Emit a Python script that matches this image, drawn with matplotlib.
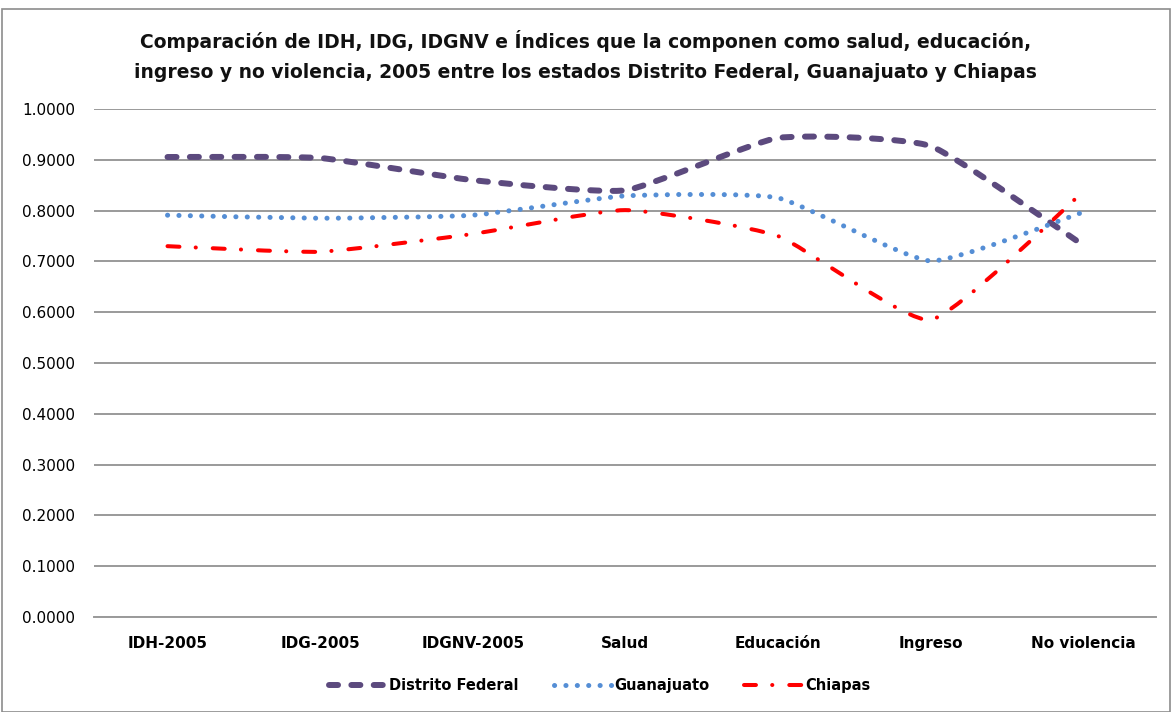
import numpy as np
import matplotlib.pyplot as plt
from matplotlib.path import Path
from matplotlib.patches import PathPatch, Rectangle
from matplotlib.lines import Line2D

plt.rcParams['lines.scale_dashes'] = False

categories = ['IDH-2005', 'IDG-2005', 'IDGNV-2005', 'Salud', 'Educación', 'Ingreso', 'No violencia']
distrito_federal = [0.9055, 0.9035, 0.8600, 0.8400, 0.9430, 0.9270, 0.7320]
guanajuato = [0.7910, 0.7850, 0.7910, 0.8290, 0.8250, 0.7010, 0.7970]
chiapas = [0.7300, 0.7190, 0.7540, 0.8010, 0.7500, 0.5850, 0.8370]
yticks = [0.0, 0.1, 0.2, 0.3, 0.4, 0.5, 0.6, 0.7, 0.8, 0.9, 1.0]
title = ('Comparación de IDH, IDG, IDGNV e Índices que la componen como salud, educación,\n'
         'ingreso y no violencia, 2005 entre los estados Distrito Federal, Guanajuato y Chiapas')

series = [
    ('Distrito Federal', distrito_federal, dict(color='#5c4a7e', lw=4.3, ls=(0, (6.5, 9.6)))),
    ('Guanajuato', guanajuato, dict(color='#558ed5', lw=3.6, ls=(0, (0.1, 8.1)))),
    ('Chiapas', chiapas, dict(color='#ff0000', lw=2.9, ls=(0, (8.6, 11.7, 0.1, 12.2)))),
]


def smooth_path(xs, ys, k=0.08):
    # smoothed line like excel: bezier through every point
    pts = np.column_stack([xs, ys]).astype(float)
    ext = np.vstack([pts[0], pts, pts[-1]])
    verts = [pts[0]]
    codes = [Path.MOVETO]
    for i in range(len(pts) - 1):
        p0, p1, p2, p3 = ext[i], ext[i + 1], ext[i + 2], ext[i + 3]
        verts += [p1 + (p2 - p0) * k, p2 - (p3 - p1) * k, p2]
        codes += [Path.CURVE4] * 3
    return Path(verts, codes)


fig = plt.figure(figsize=(11.71, 7.12), dpi=100)
fig.patches.append(Rectangle((0.002, 0.0), 0.997, 0.988, transform=fig.transFigure,
                             fill=False, ec='#8c8c8c', lw=1.2))
ax = fig.add_axes([0.0805, 0.1334, 0.907, 0.7135])

x = np.arange(len(categories))
handles = []
for name, vals, st in series:
    patch = PathPatch(smooth_path(x, vals), fill=False, ec=st['color'], lw=st['lw'],
                      ls=st['ls'], capstyle='round', joinstyle='round', zorder=3)
    ax.add_patch(patch)
    h = Line2D([], [], color=st['color'], lw=st['lw'], ls=st['ls'],
               dash_capstyle='round', solid_capstyle='round')
    handles.append(h)

ax.set_xlim(-0.48, len(categories) - 0.52)
ax.set_ylim(0, 1.0)
ax.set_yticks(yticks)
ax.set_yticklabels([f'{v:.4f}' for v in yticks])
ax.set_xticks(x)
ax.set_xticklabels(categories, fontweight='bold')
ax.grid(axis='y', color='#9a9a9a', lw=1.4)
ax.set_axisbelow(True)
for s in ['top', 'right', 'left']:
    ax.spines[s].set_visible(False)
ax.spines['bottom'].set_color('#9a9a9a')
ax.spines['bottom'].set_linewidth(1.4)
ax.tick_params(length=0, labelsize=11)
ax.tick_params(axis='x', pad=14)
ax.tick_params(axis='y', pad=14)

fig.text(0.5, 0.921, title, ha='center', va='center', fontsize=13.5, fontweight='bold',
         linespacing=1.7, color='#111111')

leg = fig.legend(handles, [s[0] for s in series], loc='center', ncol=3,
                 bbox_to_anchor=(0.512, 0.037), frameon=False, handlelength=4.0,
                 columnspacing=2.4, handletextpad=0.15, prop=dict(size=10.5, weight='bold'))

fig.savefig('out.png', dpi=100)
